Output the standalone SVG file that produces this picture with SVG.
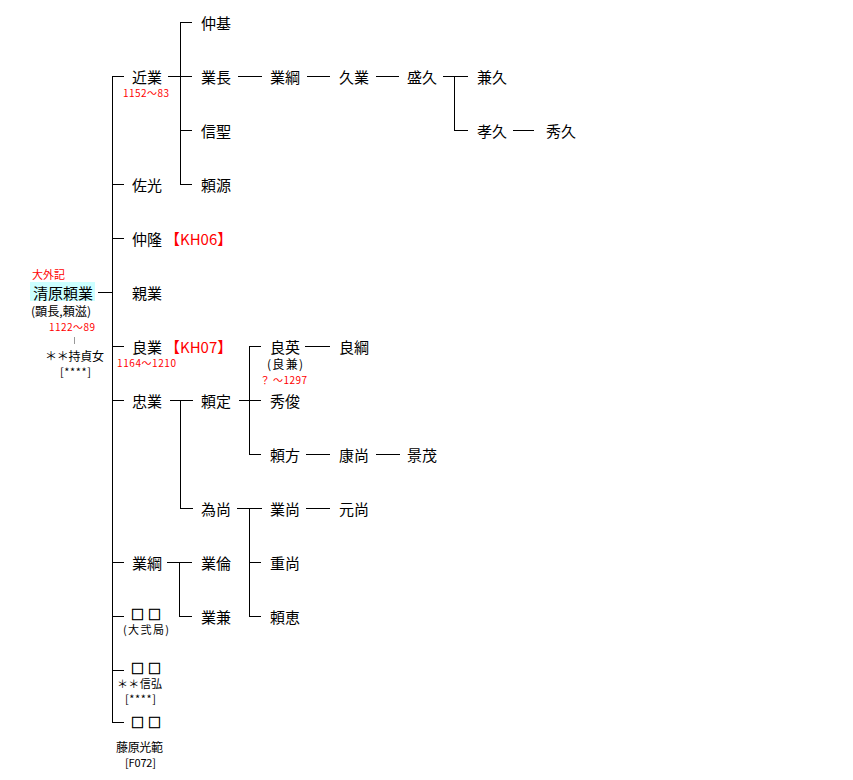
<svg xmlns="http://www.w3.org/2000/svg" width="853" height="780" viewBox="0 0 853 780">
<style>
text{font-family:"Noto Sans CJK JP","Noto Sans",sans-serif;dominant-baseline:central;fill:#000}
.n{font-size:15px}
.s{font-size:12px}
.t{font-size:11px}
.d{font-size:10px;fill:#ff0000}
.r{font-size:15px;fill:#ff0000}
.b{font-size:13px;stroke:#000;stroke-width:0.5}
.c line{stroke:#000;stroke-width:1;shape-rendering:crispEdges}
</style>
<rect width="853" height="780" fill="#fff"/>
<g class="c" id="connectors">
<line x1="98" y1="292.5" x2="112" y2="292.5"/>
<line x1="112.5" y1="76" x2="112.5" y2="723"/>
<line x1="112" y1="76.5" x2="124" y2="76.5"/>
<line x1="112" y1="184.5" x2="124" y2="184.5"/>
<line x1="112" y1="238.5" x2="124" y2="238.5"/>
<line x1="112" y1="346.5" x2="124" y2="346.5"/>
<line x1="112" y1="400.5" x2="124" y2="400.5"/>
<line x1="112" y1="562.5" x2="124" y2="562.5"/>
<line x1="112" y1="616.5" x2="124" y2="616.5"/>
<line x1="112" y1="670.5" x2="124" y2="670.5"/>
<line x1="112" y1="722.5" x2="124" y2="722.5"/>
<line x1="74.5" y1="337" x2="74.5" y2="344" style="stroke:#999"/>
<line x1="168" y1="76.5" x2="192" y2="76.5"/>
<line x1="180.5" y1="22" x2="180.5" y2="185"/>
<line x1="180" y1="22.5" x2="192" y2="22.5"/>
<line x1="180" y1="130.5" x2="192" y2="130.5"/>
<line x1="180" y1="184.5" x2="192" y2="184.5"/>
<line x1="170" y1="400.5" x2="193" y2="400.5"/>
<line x1="180.5" y1="400" x2="180.5" y2="509"/>
<line x1="180" y1="508.5" x2="193" y2="508.5"/>
<line x1="167" y1="562.5" x2="192" y2="562.5"/>
<line x1="179.5" y1="562" x2="179.5" y2="617"/>
<line x1="179" y1="616.5" x2="192" y2="616.5"/>
<line x1="238" y1="76.5" x2="262" y2="76.5"/>
<line x1="239" y1="400.5" x2="261" y2="400.5"/>
<line x1="249.5" y1="346" x2="249.5" y2="455"/>
<line x1="249" y1="346.5" x2="261" y2="346.5"/>
<line x1="249" y1="454.5" x2="261" y2="454.5"/>
<line x1="237" y1="508.5" x2="262" y2="508.5"/>
<line x1="249.5" y1="508" x2="249.5" y2="617"/>
<line x1="249" y1="562.5" x2="261" y2="562.5"/>
<line x1="249" y1="616.5" x2="261" y2="616.5"/>
<line x1="307" y1="76.5" x2="330" y2="76.5"/>
<line x1="305" y1="346.5" x2="330" y2="346.5"/>
<line x1="306" y1="454.5" x2="330" y2="454.5"/>
<line x1="306" y1="508.5" x2="330" y2="508.5"/>
<line x1="376" y1="76.5" x2="399" y2="76.5"/>
<line x1="376" y1="454.5" x2="400" y2="454.5"/>
<line x1="443" y1="76.5" x2="468" y2="76.5"/>
<line x1="454.5" y1="76" x2="454.5" y2="131"/>
<line x1="454" y1="130.5" x2="468" y2="130.5"/>
<line x1="513" y1="130.5" x2="534" y2="130.5"/>
</g>
<g id="root">
<rect x="30" y="282" width="65" height="19" fill="#ccffff"/>
<text class="d" x="32" y="274" style="font-size:11px">大外記</text>
<text class="n" x="33" y="292" textLength="60">清原頼業</text>
<text class="s" x="31" y="310" textLength="60" lengthAdjust="spacingAndGlyphs">(顕長,頼滋)</text>
<text class="d" x="49" y="326" textLength="46">1122〜89</text>
<text class="s" x="45" y="355" textLength="59">＊＊持貞女</text>
<text class="t" x="60" y="371" textLength="31">[****]</text>
</g>
<g id="n-chikanari"><text class="n" x="132" y="76">近業</text><text class="d" x="123" y="92.5" textLength="46">1152〜83</text></g>
<g id="n-sukemitsu"><text class="n" x="132" y="184">佐光</text></g>
<g id="n-nakataka"><text class="n" x="132" y="238">仲隆</text><text class="r" x="165" y="238">【KH06】</text></g>
<g id="n-chikanari2"><text class="n" x="132" y="292">親業</text></g>
<g id="n-yoshinari"><text class="n" x="132" y="346">良業</text><text class="r" x="165" y="346">【KH07】</text><text class="d" x="117" y="362.5" textLength="59">1164〜1210</text></g>
<g id="n-tadanari"><text class="n" x="132" y="400">忠業</text></g>
<g id="n-naritsuna"><text class="n" x="132" y="562">業綱</text></g>
<g id="n-daughter1"><text class="b" x="131" y="613" textLength="30">□□</text><text class="t" x="123" y="629" textLength="46">(大弐局)</text></g>
<g id="n-daughter2"><text class="b" x="131" y="667" textLength="30">□□</text><text class="t" x="117" y="683" textLength="45">＊＊信弘</text><text class="t" x="125" y="698" textLength="31">[****]</text></g>
<g id="n-daughter3"><text class="b" x="131" y="721" textLength="30">□□</text><text class="s" x="116" y="746" textLength="47">藤原光範</text><text class="t" x="125" y="762" textLength="31">[F072]</text></g>
<g id="n-nakamoto"><text class="n" x="201" y="22">仲基</text></g>
<g id="n-naritaga"><text class="n" x="201" y="76">業長</text></g>
<g id="n-nobuhiji"><text class="n" x="201" y="130">信聖</text></g>
<g id="n-yorimoto"><text class="n" x="201" y="184">頼源</text></g>
<g id="n-yorisada"><text class="n" x="201" y="400">頼定</text></g>
<g id="n-tamehisa"><text class="n" x="201" y="508">為尚</text></g>
<g id="n-narimichi"><text class="n" x="201" y="562">業倫</text></g>
<g id="n-narikane"><text class="n" x="201" y="616">業兼</text></g>
<g id="n-naritsuna2"><text class="n" x="270" y="76">業綱</text></g>
<g id="n-yoshihide"><text class="n" x="270" y="346">良英</text><text class="s" x="267" y="363" textLength="36">(良兼)</text><text class="d" x="260" y="379" textLength="47">？ 〜1297</text></g>
<g id="n-hidetoshi"><text class="n" x="270" y="400">秀俊</text></g>
<g id="n-yorikata"><text class="n" x="270" y="454">頼方</text></g>
<g id="n-narihisa"><text class="n" x="270" y="508">業尚</text></g>
<g id="n-shigehisa"><text class="n" x="270" y="562">重尚</text></g>
<g id="n-raie"><text class="n" x="270" y="616">頼恵</text></g>
<g id="n-hisanari"><text class="n" x="339" y="76">久業</text></g>
<g id="n-yoshitsuna"><text class="n" x="339" y="346">良綱</text></g>
<g id="n-yasuhisa"><text class="n" x="339" y="454">康尚</text></g>
<g id="n-motohisa"><text class="n" x="339" y="508">元尚</text></g>
<g id="n-morihisa"><text class="n" x="407" y="76">盛久</text></g>
<g id="n-kageshige"><text class="n" x="407" y="454">景茂</text></g>
<g id="n-kanehisa"><text class="n" x="477" y="76">兼久</text></g>
<g id="n-takahisa"><text class="n" x="477" y="130">孝久</text></g>
<g id="n-hidehisa"><text class="n" x="546" y="130">秀久</text></g>
</svg>
